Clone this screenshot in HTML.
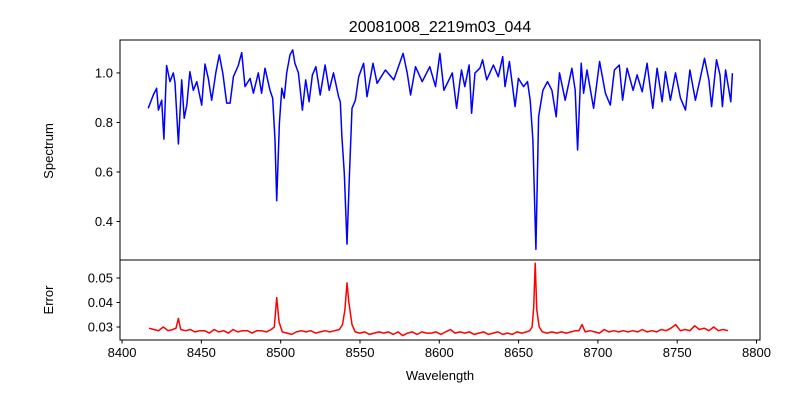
<!DOCTYPE html>
<html><head><meta charset="utf-8"><style>
body{margin:0;background:#fff;}
svg{display:block;font-family:"Liberation Sans","DejaVu Sans",sans-serif;}
</style></head><body>
<svg id="chart" width="800" height="400"></svg>
<script>
const specWave=[8416.5,8419.7,8421.8,8422.9,8425,8426.4,8428.1,8430.2,8432.3,8433.4,8435.5,8437.6,8439.2,8440.8,8442.8,8444.9,8447.1,8450.2,8452.3,8454.4,8456.5,8459.2,8461.3,8463.5,8466,8468.1,8470.2,8473.3,8475.4,8477.5,8480.7,8482.8,8485.9,8488,8490.1,8493.3,8495,8496.4,8497.5,8499.2,8500.7,8502.2,8503.8,8505.9,8507.6,8509,8511.2,8513.7,8515.8,8517.9,8520,8522.2,8524.9,8528,8530.6,8533.3,8536.5,8537.6,8538.6,8540.1,8541.8,8543.4,8545,8547.1,8549.2,8552.3,8554.4,8558.2,8560.8,8566,8571.3,8577.2,8579.8,8581.9,8585,8589.2,8594,8597.6,8600.4,8602.9,8608.2,8610.9,8613,8614.0,8616.1,8618.8,8620.4,8622.5,8625.6,8627.3,8629.9,8634.1,8637.2,8640.0,8641.4,8644.2,8647.8,8649.9,8653.1,8655.6,8657.3,8659.0,8660.9,8662.6,8665.3,8668.2,8671.0,8673.7,8675.8,8679.4,8683.6,8685.7,8687.2,8689.5,8691.0,8693.1,8697.3,8701.1,8704.7,8707.8,8710.4,8713.5,8715.6,8718.4,8722.2,8724.7,8727.9,8731.0,8734.6,8737.3,8740.5,8742.6,8745.7,8748.9,8752.1,8755.2,8758.0,8761.5,8764.3,8767.2,8770.0,8771.7,8774.8,8777.0,8778.5,8780.5,8783.8,8784.8];
const specFlux=[0.857,0.911,0.938,0.85,0.89,0.733,1.03,0.965,1.0,0.96,0.713,0.972,0.817,0.87,1.005,0.93,0.965,0.87,1.036,0.978,0.89,1.005,1.073,0.999,0.878,0.878,0.985,1.03,1.082,0.945,0.978,0.918,1.0,0.918,1.019,0.93,0.898,0.729,0.484,0.797,0.938,0.898,1.0,1.073,1.093,1.039,1.0,0.85,0.972,0.884,0.992,1.025,0.911,1.032,0.93,1.0,0.904,0.884,0.743,0.595,0.309,0.595,0.857,0.89,0.985,1.039,0.904,1.039,0.958,1.012,0.972,1.079,1.0,0.911,1.025,0.965,1.025,0.945,1.079,0.93,1.0,0.857,0.965,1.012,0.945,1.032,0.837,1.0,1.019,1.053,0.972,1.032,0.985,1.066,0.945,1.046,0.864,0.978,0.945,0.965,0.89,0.729,0.288,0.823,0.93,0.965,0.93,0.823,1.0,0.89,1.019,0.93,0.689,1.039,0.918,1.012,0.857,1.046,0.918,0.87,1.012,1.032,0.89,1.019,0.93,0.992,0.924,1.039,0.857,1.019,0.884,1.005,0.89,1.0,0.898,0.85,1.012,0.89,0.972,1.059,0.972,0.864,1.053,0.992,0.864,1.012,0.884,0.999];
const errWave=[8417,8420,8423,8426,8429,8432,8434,8435.5,8437,8440,8443,8446,8449,8452,8455,8458,8461,8464,8467,8470,8473,8476,8479,8482,8485,8488,8491,8494,8496,8497.5,8499,8501,8504,8507,8510,8513,8516,8519,8522,8525,8528,8531,8534,8537,8539,8540.5,8541.8,8543,8545,8547,8550,8553,8556,8559,8562,8565,8568,8571,8574,8577,8580,8583,8586,8589,8592,8595,8598,8601,8604,8607,8610,8613,8616,8619,8622,8625,8628,8631,8634,8637,8640,8643,8646,8649,8652,8655,8657,8658.5,8659.5,8660.5,8661.5,8663,8665,8668,8671,8674,8677,8680,8683,8686,8688,8690,8692,8695,8698,8701,8704,8707,8710,8713,8716,8719,8722,8725,8728,8731,8734,8737,8740,8743,8746,8749,8752,8755,8758,8761,8764,8767,8770,8773,8776,8779,8782,8784];
const errVal=[0.0295,0.029,0.0285,0.030,0.0285,0.029,0.0295,0.0335,0.029,0.0285,0.029,0.028,0.0285,0.0285,0.0275,0.029,0.028,0.0285,0.0275,0.029,0.028,0.0285,0.0285,0.0275,0.0285,0.0285,0.028,0.029,0.030,0.042,0.032,0.028,0.0275,0.027,0.028,0.0285,0.028,0.0285,0.0275,0.028,0.0285,0.028,0.0285,0.029,0.031,0.037,0.048,0.040,0.031,0.028,0.0275,0.028,0.027,0.0275,0.028,0.0275,0.028,0.027,0.028,0.0265,0.0275,0.028,0.027,0.028,0.0275,0.0275,0.028,0.027,0.028,0.029,0.0275,0.028,0.0275,0.028,0.027,0.0275,0.028,0.027,0.0275,0.028,0.027,0.0275,0.027,0.028,0.0275,0.028,0.0285,0.030,0.038,0.056,0.037,0.030,0.028,0.0275,0.028,0.0275,0.028,0.0275,0.028,0.0285,0.0285,0.031,0.028,0.0285,0.028,0.0275,0.029,0.028,0.0285,0.028,0.0285,0.028,0.0285,0.028,0.029,0.028,0.0285,0.028,0.029,0.0285,0.0295,0.031,0.0285,0.029,0.0285,0.0305,0.029,0.0295,0.0285,0.030,0.0285,0.029,0.0285];
const xTicks=[8400,8450,8500,8550,8600,8650,8700,8750,8800];
const specTicks=[0.4,0.6,0.8,1.0];
const errTicks=[0.03,0.04,0.05];

const NS="http://www.w3.org/2000/svg";
const svg=document.getElementById('chart');
const L=120,R=760;
const xMin=8398.7,xMax=8802.2;
const x=v=>L+(v-xMin)/(xMax-xMin)*(R-L);
const yS=v=>40+(1.133-v)/(1.133-0.2446)*220;
const yE=v=>260+(0.05735-v)/(0.05735-0.0247)*80;
function mk(tag,attrs,parent){const e=document.createElementNS(NS,tag);for(const k in attrs)e.setAttribute(k,attrs[k]);(parent||svg).appendChild(e);return e;}
function txt(s,attrs){const t=mk('text',attrs);t.textContent=s;return t;}

const lineS=mk('polyline',{points:specWave.map((w,i)=>x(w).toFixed(1)+','+yS(specFlux[i]).toFixed(1)).join(' '),fill:'none',stroke:'#0000ff','stroke-width':1.5,'stroke-linejoin':'round'});


const lineE=mk('polyline',{points:errWave.map((w,i)=>x(w).toFixed(1)+','+yE(errVal[i]).toFixed(1)).join(' '),fill:'none',stroke:'#ff0000','stroke-width':1.5,'stroke-linejoin':'round'});



const f1=mk('rect',{x:L,y:40,width:R-L,height:220,fill:'none',stroke:'#000','stroke-width':1});


const f2=mk('rect',{x:L,y:260,width:R-L,height:80,fill:'none',stroke:'#000','stroke-width':1});



xTicks.forEach(t=>{const px=x(t);mk('line',{x1:px,x2:px,y1:340,y2:343.5,stroke:'#000'});
 const l=txt(String(t),{x:px,y:357,'text-anchor':'middle','font-size':13,fill:'#000'});
 
 });
specTicks.forEach(t=>{const py=yS(t);mk('line',{x1:L-3.5,x2:L,y1:py,y2:py,stroke:'#000'});
 const l=txt(t.toFixed(1),{x:L-7,y:py+4.5,'text-anchor':'end','font-size':13,fill:'#000'});
 
 });
errTicks.forEach(t=>{const py=yE(t);mk('line',{x1:L-3.5,x2:L,y1:py,y2:py,stroke:'#000'});
 const l=txt(t.toFixed(2),{x:L-7,y:py+4.5,'text-anchor':'end','font-size':13,fill:'#000'});
 
 });

const ti=txt('20081008_2219m03_044',{x:440,y:32,'text-anchor':'middle','font-size':16,fill:'#000'});


const xl=txt('Wavelength',{x:440,y:380,'text-anchor':'middle','font-size':13,fill:'#000'});


const y1=txt('Spectrum',{x:0,y:0,'text-anchor':'middle','font-size':13,fill:'#000',transform:'translate(53,151) rotate(-90)'});


const y2=txt('Error',{x:0,y:0,'text-anchor':'middle','font-size':13,fill:'#000',transform:'translate(53,300) rotate(-90)'});


</script>
</body></html>
